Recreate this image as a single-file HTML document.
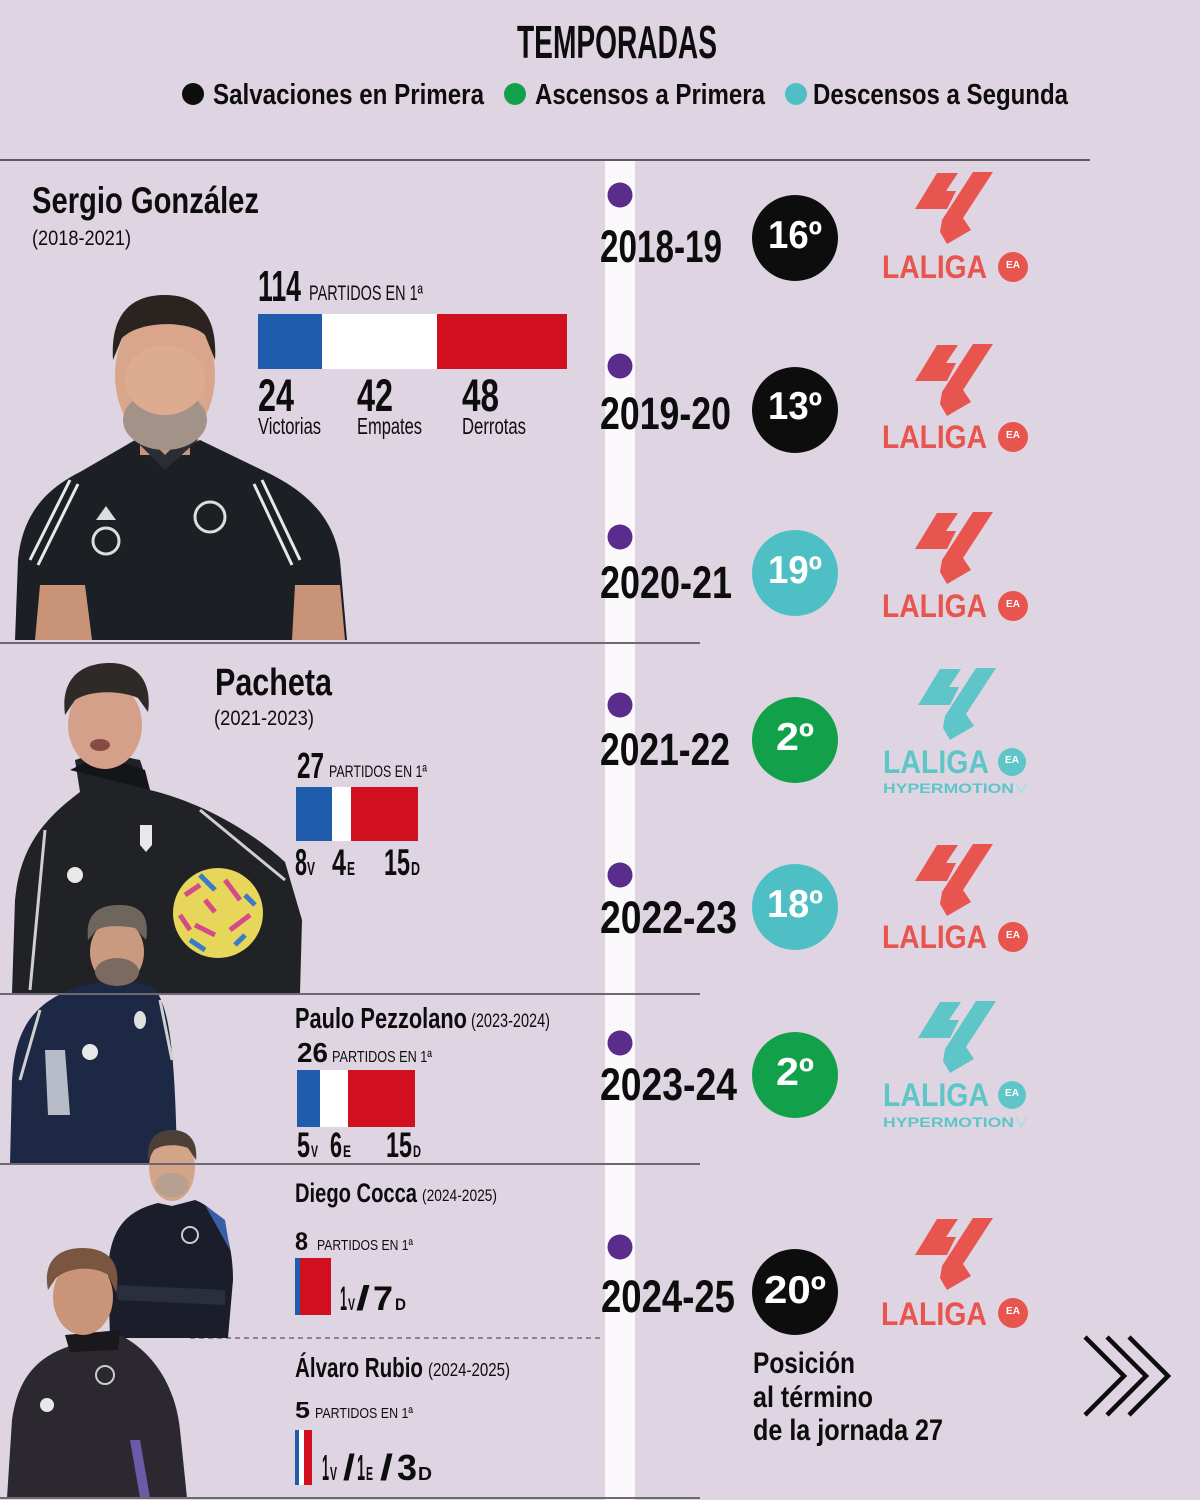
<!DOCTYPE html>
<html>
<head>
<meta charset="utf-8">
<style>
html,body{margin:0;padding:0;background:#dfd5e2;}
svg{display:block;}
text{font-family:"Liberation Sans",sans-serif;font-weight:bold;}
</style>
</head>
<body>
<svg width="1200" height="1500" viewBox="0 0 1200 1500" xmlns="http://www.w3.org/2000/svg">
<rect x="0" y="0" width="1200" height="1500" fill="#dfd5e2"/>

<!-- Header -->
<text x="517" y="58" font-size="46" textLength="200" lengthAdjust="spacingAndGlyphs" fill="#0d0d0d">TEMPORADAS</text>
<circle cx="193" cy="94" r="11" fill="#0d0d0d"/>
<text x="213" y="104" font-size="29" textLength="271" lengthAdjust="spacingAndGlyphs" fill="#0d0d0d">Salvaciones en Primera</text>
<circle cx="515" cy="94" r="11" fill="#13a04a"/>
<text x="535" y="104" font-size="29" textLength="230" lengthAdjust="spacingAndGlyphs" fill="#0d0d0d">Ascensos a Primera</text>
<circle cx="796" cy="94" r="11" fill="#4fbfc6"/>
<text x="813" y="104" font-size="29" textLength="255" lengthAdjust="spacingAndGlyphs" fill="#0d0d0d">Descensos a Segunda</text>

<!-- white vertical stripe -->
<rect x="605" y="161" width="30" height="1339" fill="#faf8fb"/>

<!-- dashed line -->
<line x1="190" y1="1338" x2="600" y2="1338" stroke="#6e6872" stroke-width="1.5" stroke-dasharray="5,4"/>

<!-- ===== PHOTOS ===== -->
<!-- Sergio -->
<g>
  <path d="M15,640 L18,560 C22,520 40,492 80,472 L135,440 L165,456 L200,440 L262,470 C310,492 334,520 340,560 L347,640 Z" fill="#1c1f24"/>
  <rect x="140" y="420" width="50" height="35" fill="#c8957a"/>
  <path d="M135,440 L165,470 L198,440 L190,430 L165,455 L140,430 Z" fill="#2a2d33"/>
  <ellipse cx="165" cy="375" rx="50" ry="70" fill="#d9a68c"/>
  <ellipse cx="165" cy="420" rx="42" ry="30" fill="#a39288"/>
  <ellipse cx="165" cy="380" rx="40" ry="35" fill="#dcab90"/>
  <path d="M113,360 C110,310 135,295 165,295 C198,295 218,315 215,360 L205,335 C190,320 140,320 122,338 Z" fill="#2b2320"/>
  <path d="M30,560 L70,480" stroke="#e8e8e8" stroke-width="3"/>
  <path d="M38,565 L78,484" stroke="#e8e8e8" stroke-width="3"/>
  <path d="M300,560 L262,480" stroke="#e8e8e8" stroke-width="3"/>
  <path d="M292,565 L254,484" stroke="#e8e8e8" stroke-width="3"/>
  <circle cx="210" cy="517" r="15" fill="none" stroke="#ddd" stroke-width="3"/>
  <circle cx="106" cy="541" r="13" fill="none" stroke="#ddd" stroke-width="3"/>
  <path d="M96,520 L116,520 L106,506 Z" fill="#ddd"/>
  <path d="M40,585 L85,585 L92,640 L35,640 Z" fill="#c99378"/>
  <path d="M295,585 L340,585 L345,640 L292,640 Z" fill="#c99378"/>
</g>

<!-- Pacheta -->
<g>
  <path d="M12,993 L15,900 C20,850 40,822 80,792 L75,760 L100,752 L140,760 L150,790 C200,802 250,830 285,862 L302,920 L300,993 Z" fill="#202226"/>
  <path d="M70,770 L150,790 L145,770 L100,755 Z" fill="#141518"/>
  <ellipse cx="105" cy="725" rx="37" ry="44" fill="#d4a089"/>
  <path d="M65,715 C60,675 85,663 110,663 C140,663 152,685 148,712 L138,698 C120,690 90,690 75,700 Z" fill="#2e2a27"/>
  <ellipse cx="100" cy="745" rx="10" ry="6" fill="#8a4a44"/>
  <path d="M45,830 L30,990" stroke="#cfcfcf" stroke-width="3"/>
  <path d="M200,810 L285,880" stroke="#cfcfcf" stroke-width="3"/>
  <path d="M140,825 L152,825 L152,845 L146,852 L140,845 Z" fill="#e8e8e8"/>
  <circle cx="75" cy="875" r="8" fill="#e8e8e8"/>
  <circle cx="218" cy="913" r="45" fill="#e6d75a"/>
  <path d="M185,895 L200,885 M225,880 L240,900 M195,925 L215,935 M230,930 L250,915 M205,900 L215,912 M180,915 L190,930" stroke="#d44a8a" stroke-width="5"/>
  <path d="M200,875 L215,890 M245,895 L255,905 M190,940 L205,950 M235,945 L245,935" stroke="#3a7ac8" stroke-width="5"/>
</g>

<!-- Pezzolano -->
<g>
  <path d="M10,1164 L12,1080 C15,1030 32,1002 80,986 L117,978 L152,986 C168,1002 175,1040 177,1164 Z" fill="#1d2944"/>
  <path d="M45,1050 L65,1050 L70,1115 L48,1115 Z" fill="#b8bcc8"/>
  <path d="M40,1010 L20,1080" stroke="#d0d0d0" stroke-width="3"/>
  <path d="M160,1000 L172,1060" stroke="#d0d0d0" stroke-width="3"/>
  <circle cx="90" cy="1052" r="8" fill="#e8e8e8"/>
  <ellipse cx="140" cy="1020" rx="6" ry="9" fill="#e0e0e0"/>
  <ellipse cx="117" cy="952" rx="27" ry="33" fill="#c99a80"/>
  <ellipse cx="117" cy="972" rx="22" ry="14" fill="#7c6a60"/>
  <path d="M88,940 C85,912 100,905 120,905 C140,905 150,915 146,940 L135,928 C120,925 100,925 95,932 Z" fill="#6e655c"/>
</g>

<!-- Cocca -->
<g>
  <path d="M110,1338 L108,1270 C110,1225 130,1210 158,1203 L172,1206 L195,1200 C222,1210 233,1240 233,1280 L228,1338 Z" fill="#1b1e2a"/>
  <path d="M115,1285 L225,1290 L225,1305 L118,1300 Z" fill="#2a2f3e"/>
  <path d="M205,1205 L225,1220 L230,1250 Z" fill="#3a5fa8"/>
  <ellipse cx="172" cy="1168" rx="23" ry="33" fill="#d3a488"/>
  <ellipse cx="172" cy="1185" rx="17" ry="12" fill="#b8a090"/>
  <path d="M148,1160 C146,1138 158,1130 172,1130 C188,1130 198,1140 196,1160 L188,1148 C178,1144 162,1144 154,1150 Z" fill="#4b3f37"/>
  <circle cx="190" cy="1235" r="8" fill="none" stroke="#ccc" stroke-width="2"/>
</g>

<!-- Rubio -->
<g>
  <path d="M7,1498 L12,1420 C18,1375 40,1356 70,1346 L78,1335 L120,1335 C150,1350 175,1382 180,1430 L187,1498 Z" fill="#2b2830"/>
  <path d="M130,1440 L140,1498 L150,1498 L140,1440 Z" fill="#6b5aa8"/>
  <path d="M65,1335 L120,1330 L118,1350 L70,1352 Z" fill="#1a181d"/>
  <ellipse cx="83" cy="1297" rx="30" ry="38" fill="#c99478"/>
  <path d="M48,1290 C42,1260 60,1248 82,1248 C108,1248 122,1262 116,1292 L108,1275 C95,1266 70,1266 56,1278 Z" fill="#7a5540"/>
  <circle cx="105" cy="1375" r="9" fill="none" stroke="#ccc" stroke-width="2"/>
  <circle cx="47" cy="1405" r="7" fill="#e8e8e8"/>
</g>

<!-- ===== Lines ===== -->
<line x1="0" y1="160" x2="1090" y2="160" stroke="#5e5a62" stroke-width="2"/>
<line x1="0" y1="643" x2="700" y2="643" stroke="#6e6872" stroke-width="2"/>
<line x1="0" y1="994" x2="700" y2="994" stroke="#6e6872" stroke-width="2"/>
<line x1="0" y1="1164" x2="700" y2="1164" stroke="#6e6872" stroke-width="2"/>
<line x1="0" y1="1498" x2="700" y2="1498" stroke="#6e6872" stroke-width="2"/>

<!-- ===== Left text ===== -->
<!-- Sergio -->
<text x="32" y="213" font-size="37" textLength="227" lengthAdjust="spacingAndGlyphs" fill="#0d0d0d">Sergio González</text>
<text x="32" y="245" font-size="21" font-weight="normal" style="font-weight:normal" textLength="99" lengthAdjust="spacingAndGlyphs" fill="#0d0d0d">(2018-2021)</text>
<text x="258" y="301" font-size="44" textLength="43" lengthAdjust="spacingAndGlyphs" fill="#0d0d0d">114</text>
<text x="309" y="300" font-size="21" style="font-weight:normal" textLength="114" lengthAdjust="spacingAndGlyphs" fill="#0d0d0d">PARTIDOS EN 1ª</text>
<rect x="258" y="314" width="64" height="55" fill="#1f5cab"/>
<rect x="322" y="314" width="115" height="55" fill="#ffffff"/>
<rect x="437" y="314" width="130" height="55" fill="#d0101f"/>
<text x="258" y="411" font-size="45" textLength="36" lengthAdjust="spacingAndGlyphs" fill="#0d0d0d">24</text>
<text x="357" y="411" font-size="45" textLength="36" lengthAdjust="spacingAndGlyphs" fill="#0d0d0d">42</text>
<text x="462" y="411" font-size="45" textLength="37" lengthAdjust="spacingAndGlyphs" fill="#0d0d0d">48</text>
<text x="258" y="434" font-size="23" style="font-weight:normal" textLength="63" lengthAdjust="spacingAndGlyphs" fill="#0d0d0d">Victorias</text>
<text x="357" y="434" font-size="23" style="font-weight:normal" textLength="65" lengthAdjust="spacingAndGlyphs" fill="#0d0d0d">Empates</text>
<text x="462" y="434" font-size="23" style="font-weight:normal" textLength="64" lengthAdjust="spacingAndGlyphs" fill="#0d0d0d">Derrotas</text>

<!-- Pacheta -->
<text x="215" y="695" font-size="38" textLength="117" lengthAdjust="spacingAndGlyphs" fill="#0d0d0d">Pacheta</text>
<text x="214" y="725" font-size="21" style="font-weight:normal" textLength="100" lengthAdjust="spacingAndGlyphs" fill="#0d0d0d">(2021-2023)</text>
<text x="297" y="778" font-size="36" textLength="27" lengthAdjust="spacingAndGlyphs" fill="#0d0d0d">27</text>
<text x="329" y="777" font-size="17" style="font-weight:normal" textLength="98" lengthAdjust="spacingAndGlyphs" fill="#0d0d0d">PARTIDOS EN 1ª</text>
<rect x="296" y="787" width="36" height="54" fill="#1f5cab"/>
<rect x="332" y="787" width="19" height="54" fill="#ffffff"/>
<rect x="351" y="787" width="67" height="54" fill="#d0101f"/>
<text x="295" y="875" font-size="37" textLength="12" lengthAdjust="spacingAndGlyphs" fill="#0d0d0d">8</text>
<text x="307" y="875" font-size="18" textLength="8" lengthAdjust="spacingAndGlyphs" fill="#0d0d0d">V</text>
<text x="332" y="875" font-size="37" textLength="14" lengthAdjust="spacingAndGlyphs" fill="#0d0d0d">4</text>
<text x="347" y="875" font-size="18" textLength="8" lengthAdjust="spacingAndGlyphs" fill="#0d0d0d">E</text>
<text x="384" y="875" font-size="37" textLength="26" lengthAdjust="spacingAndGlyphs" fill="#0d0d0d">15</text>
<text x="411" y="875" font-size="18" textLength="9" lengthAdjust="spacingAndGlyphs" fill="#0d0d0d">D</text>

<!-- Pezzolano -->
<text x="295" y="1028" font-size="29" textLength="172" lengthAdjust="spacingAndGlyphs" fill="#0d0d0d">Paulo Pezzolano</text>
<text x="471" y="1027" font-size="19" style="font-weight:normal" textLength="79" lengthAdjust="spacingAndGlyphs" fill="#0d0d0d">(2023-2024)</text>
<text x="297" y="1062" font-size="28" textLength="31" lengthAdjust="spacingAndGlyphs" fill="#0d0d0d">26</text>
<text x="332" y="1062" font-size="16" style="font-weight:normal" textLength="100" lengthAdjust="spacingAndGlyphs" fill="#0d0d0d">PARTIDOS EN 1ª</text>
<rect x="297" y="1070" width="23" height="57" fill="#1f5cab"/>
<rect x="320" y="1070" width="28" height="57" fill="#ffffff"/>
<rect x="348" y="1070" width="67" height="57" fill="#d0101f"/>
<text x="297" y="1157" font-size="35" textLength="13" lengthAdjust="spacingAndGlyphs" fill="#0d0d0d">5</text>
<text x="311" y="1157" font-size="17" textLength="7" lengthAdjust="spacingAndGlyphs" fill="#0d0d0d">V</text>
<text x="330" y="1157" font-size="35" textLength="12" lengthAdjust="spacingAndGlyphs" fill="#0d0d0d">6</text>
<text x="343" y="1157" font-size="17" textLength="8" lengthAdjust="spacingAndGlyphs" fill="#0d0d0d">E</text>
<text x="386" y="1157" font-size="35" textLength="26" lengthAdjust="spacingAndGlyphs" fill="#0d0d0d">15</text>
<text x="413" y="1157" font-size="17" textLength="8" lengthAdjust="spacingAndGlyphs" fill="#0d0d0d">D</text>

<!-- Cocca -->
<text x="295" y="1202" font-size="27" textLength="122" lengthAdjust="spacingAndGlyphs" fill="#0d0d0d">Diego Cocca</text>
<text x="422" y="1201" font-size="17" style="font-weight:normal" textLength="75" lengthAdjust="spacingAndGlyphs" fill="#0d0d0d">(2024-2025)</text>
<text x="295" y="1250" font-size="25" textLength="13" lengthAdjust="spacingAndGlyphs" fill="#0d0d0d">8</text>
<text x="317" y="1250" font-size="15" style="font-weight:normal" textLength="96" lengthAdjust="spacingAndGlyphs" fill="#0d0d0d">PARTIDOS EN 1ª</text>
<rect x="295" y="1258" width="5" height="57" fill="#1f5cab"/>
<rect x="300" y="1258" width="31" height="57" fill="#d0101f"/>
<text x="340" y="1310" font-size="34" textLength="7" lengthAdjust="spacingAndGlyphs" fill="#0d0d0d">1</text>
<text x="348" y="1310" font-size="17" textLength="7" lengthAdjust="spacingAndGlyphs" fill="#0d0d0d">V</text>
<text x="356" y="1310" font-size="34" textLength="14" lengthAdjust="spacingAndGlyphs" fill="#0d0d0d">/</text>
<text x="373" y="1310" font-size="34" textLength="20" lengthAdjust="spacingAndGlyphs" fill="#0d0d0d">7</text>
<text x="395" y="1310" font-size="17" textLength="11" lengthAdjust="spacingAndGlyphs" fill="#0d0d0d">D</text>

<!-- Rubio -->
<text x="295" y="1377" font-size="28" textLength="128" lengthAdjust="spacingAndGlyphs" fill="#0d0d0d">Álvaro Rubio</text>
<text x="428" y="1376" font-size="18" style="font-weight:normal" textLength="82" lengthAdjust="spacingAndGlyphs" fill="#0d0d0d">(2024-2025)</text>
<text x="295" y="1418" font-size="23" textLength="15" lengthAdjust="spacingAndGlyphs" fill="#0d0d0d">5</text>
<text x="315" y="1418" font-size="15" style="font-weight:normal" textLength="98" lengthAdjust="spacingAndGlyphs" fill="#0d0d0d">PARTIDOS EN 1ª</text>
<rect x="295" y="1430" width="4" height="55" fill="#1f5cab"/>
<rect x="299" y="1430" width="5" height="55" fill="#ffffff"/>
<rect x="304" y="1430" width="8" height="55" fill="#d0101f"/>
<text x="322" y="1480" font-size="36" textLength="7" lengthAdjust="spacingAndGlyphs" fill="#0d0d0d">1</text>
<text x="330" y="1480" font-size="18" textLength="7" lengthAdjust="spacingAndGlyphs" fill="#0d0d0d">V</text>
<text x="343" y="1480" font-size="36" textLength="12" lengthAdjust="spacingAndGlyphs" fill="#0d0d0d">/</text>
<text x="357" y="1480" font-size="36" textLength="8" lengthAdjust="spacingAndGlyphs" fill="#0d0d0d">1</text>
<text x="366" y="1480" font-size="18" textLength="7" lengthAdjust="spacingAndGlyphs" fill="#0d0d0d">E</text>
<text x="380" y="1480" font-size="36" textLength="13" lengthAdjust="spacingAndGlyphs" fill="#0d0d0d">/</text>
<text x="397" y="1480" font-size="36" textLength="20" lengthAdjust="spacingAndGlyphs" fill="#0d0d0d">3</text>
<text x="418" y="1480" font-size="18" textLength="14" lengthAdjust="spacingAndGlyphs" fill="#0d0d0d">D</text>

<!-- ===== Timeline ===== -->
<g fill="#5a2d8c">
  <circle cx="620" cy="195" r="12.5"/>
  <circle cx="620" cy="366" r="12.5"/>
  <circle cx="620" cy="537" r="12.5"/>
  <circle cx="620" cy="705" r="12.5"/>
  <circle cx="620" cy="875" r="12.5"/>
  <circle cx="620" cy="1043" r="12.5"/>
  <circle cx="620" cy="1247" r="12.5"/>
</g>

<g fill="#0d0d0d" font-size="45">
  <text x="600" y="262" textLength="122" lengthAdjust="spacingAndGlyphs">2018-19</text>
  <text x="600" y="429" textLength="131" lengthAdjust="spacingAndGlyphs">2019-20</text>
  <text x="600" y="598" textLength="132" lengthAdjust="spacingAndGlyphs">2020-21</text>
  <text x="600" y="765" textLength="130" lengthAdjust="spacingAndGlyphs">2021-22</text>
  <text x="600" y="933" textLength="137" lengthAdjust="spacingAndGlyphs">2022-23</text>
  <text x="600" y="1100" textLength="137" lengthAdjust="spacingAndGlyphs">2023-24</text>
  <text x="601" y="1312" textLength="134" lengthAdjust="spacingAndGlyphs">2024-25</text>
</g>

<!-- position circles -->
<circle cx="795" cy="238" r="43" fill="#0d0d0d"/>
<text x="795" y="248" font-size="39" text-anchor="middle" textLength="54" lengthAdjust="spacingAndGlyphs" fill="#ffffff">16º</text>
<circle cx="795" cy="410" r="43" fill="#0d0d0d"/>
<text x="795" y="419" font-size="39" text-anchor="middle" textLength="54" lengthAdjust="spacingAndGlyphs" fill="#ffffff">13º</text>
<circle cx="795" cy="573" r="43" fill="#4fbfc6"/>
<text x="795" y="583" font-size="39" text-anchor="middle" textLength="54" lengthAdjust="spacingAndGlyphs" fill="#ffffff">19º</text>
<circle cx="795" cy="740" r="43" fill="#13a04a"/>
<text x="795" y="750" font-size="39" text-anchor="middle" textLength="38" lengthAdjust="spacingAndGlyphs" fill="#ffffff">2º</text>
<circle cx="795" cy="907" r="43" fill="#4fbfc6"/>
<text x="795" y="917" font-size="39" text-anchor="middle" textLength="56" lengthAdjust="spacingAndGlyphs" fill="#ffffff">18º</text>
<circle cx="795" cy="1075" r="43" fill="#13a04a"/>
<text x="795" y="1085" font-size="39" text-anchor="middle" textLength="38" lengthAdjust="spacingAndGlyphs" fill="#ffffff">2º</text>
<circle cx="795" cy="1292" r="43" fill="#0d0d0d"/>
<text x="795" y="1303" font-size="39" text-anchor="middle" textLength="62" lengthAdjust="spacingAndGlyphs" fill="#ffffff">20º</text>

<!-- LaLiga logos (red) -->
<g fill="#e8544e">
  <g transform="translate(913,170)"><path d="M24,3 L45,3 L33,21 L43,21 L34,39 L2,39 Z"/><path d="M60,2 L80,2 L50,48 L58,60 L34,74 L27,62 L29,50 Z"/></g>
  <text x="882" y="278" font-size="32" textLength="105" lengthAdjust="spacingAndGlyphs">LALIGA</text>
  <circle cx="1013" cy="267" r="15"/>

  <g transform="translate(913,342)"><path d="M24,3 L45,3 L33,21 L43,21 L34,39 L2,39 Z"/><path d="M60,2 L80,2 L50,48 L58,60 L34,74 L27,62 L29,50 Z"/></g>
  <text x="882" y="448" font-size="32" textLength="105" lengthAdjust="spacingAndGlyphs">LALIGA</text>
  <circle cx="1013" cy="437" r="15"/>

  <g transform="translate(913,510)"><path d="M24,3 L45,3 L33,21 L43,21 L34,39 L2,39 Z"/><path d="M60,2 L80,2 L50,48 L58,60 L34,74 L27,62 L29,50 Z"/></g>
  <text x="882" y="617" font-size="32" textLength="105" lengthAdjust="spacingAndGlyphs">LALIGA</text>
  <circle cx="1013" cy="606" r="15"/>

  <g transform="translate(913,842)"><path d="M24,3 L45,3 L33,21 L43,21 L34,39 L2,39 Z"/><path d="M60,2 L80,2 L50,48 L58,60 L34,74 L27,62 L29,50 Z"/></g>
  <text x="882" y="948" font-size="32" textLength="105" lengthAdjust="spacingAndGlyphs">LALIGA</text>
  <circle cx="1013" cy="937" r="15"/>

  <g transform="translate(913,1216)"><path d="M24,3 L45,3 L33,21 L43,21 L34,39 L2,39 Z"/><path d="M60,2 L80,2 L50,48 L58,60 L34,74 L27,62 L29,50 Z"/></g>
  <text x="881" y="1325" font-size="32" textLength="106" lengthAdjust="spacingAndGlyphs">LALIGA</text>
  <circle cx="1013" cy="1313" r="15"/>
</g>

<!-- Hypermotion logos (teal) -->
<g fill="#5ec6c8">
  <g transform="translate(916,666)"><path d="M24,3 L45,3 L33,21 L43,21 L34,39 L2,39 Z"/><path d="M60,2 L80,2 L50,48 L58,60 L34,74 L27,62 L29,50 Z"/></g>
  <text x="883" y="773" font-size="32" textLength="106" lengthAdjust="spacingAndGlyphs">LALIGA</text>
  <circle cx="1012" cy="762" r="14"/>
  <text x="883" y="793" font-size="14" textLength="131" lengthAdjust="spacingAndGlyphs">HYPERMOTION</text>

  <g transform="translate(916,999)"><path d="M24,3 L45,3 L33,21 L43,21 L34,39 L2,39 Z"/><path d="M60,2 L80,2 L50,48 L58,60 L34,74 L27,62 L29,50 Z"/></g>
  <text x="883" y="1106" font-size="32" textLength="106" lengthAdjust="spacingAndGlyphs">LALIGA</text>
  <circle cx="1012" cy="1095" r="14"/>
  <text x="883" y="1127" font-size="14" textLength="131" lengthAdjust="spacingAndGlyphs">HYPERMOTION</text>
</g>
<g fill="none" stroke="#a8dfe0" stroke-width="1.5">
  <polyline points="1016,783 1021,793 1027,783"/>
  <polyline points="1016,1117 1021,1127 1027,1117"/>
</g>

<!-- EA texts -->
<g fill="#ffffff" font-size="10" text-anchor="middle">
  <text x="1013" y="268">EA</text>
  <text x="1013" y="438">EA</text>
  <text x="1013" y="607">EA</text>
  <text x="1013" y="938">EA</text>
  <text x="1013" y="1314">EA</text>
  <text x="1012" y="763">EA</text>
  <text x="1012" y="1096">EA</text>
</g>

<!-- Posición text -->
<g fill="#0d0d0d" font-size="30">
  <text x="753" y="1373" textLength="102" lengthAdjust="spacingAndGlyphs">Posición</text>
  <text x="753" y="1407" textLength="120" lengthAdjust="spacingAndGlyphs">al término</text>
  <text x="753" y="1440" textLength="190" lengthAdjust="spacingAndGlyphs">de la jornada 27</text>
</g>

<!-- chevrons -->
<g fill="none" stroke="#0d0d0d" stroke-width="4.5">
  <polyline points="1085,1337 1124,1376 1085,1415"/>
  <polyline points="1107,1337 1146,1376 1107,1415"/>
  <polyline points="1129,1337 1168,1376 1129,1415"/>
</g>
</svg>
</body>
</html>
